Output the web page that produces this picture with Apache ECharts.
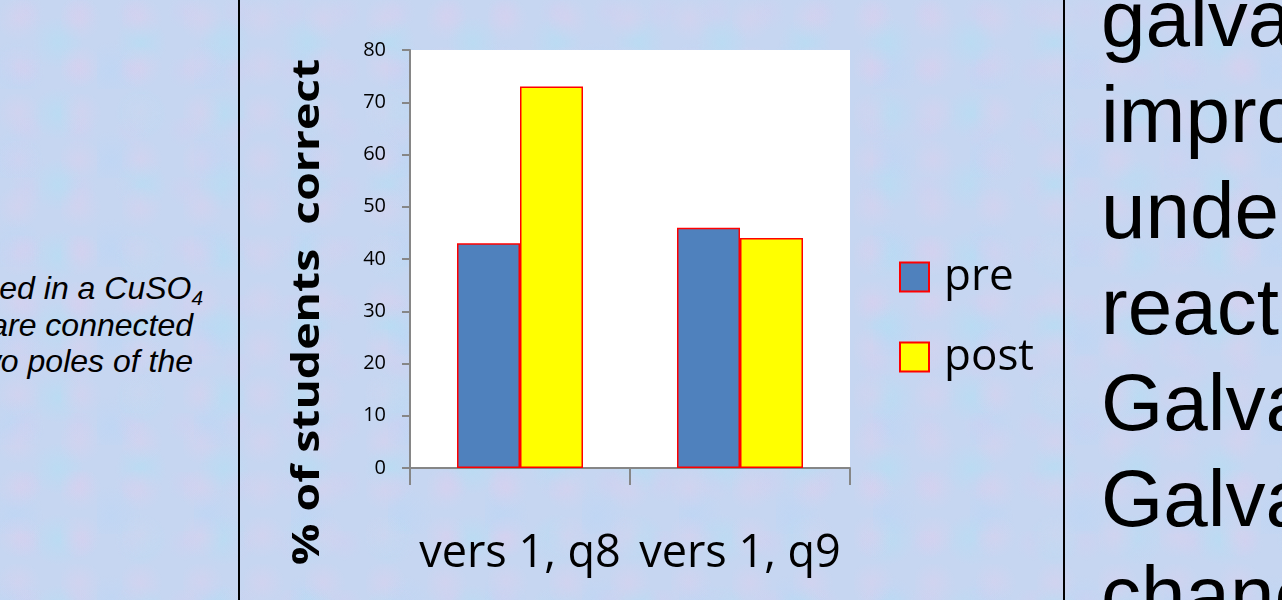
<!DOCTYPE html>
<html>
<head>
<meta charset="utf-8">
<title>% of students correct</title>
<script src="https://cdn.jsdelivr.net/npm/echarts@6/dist/echarts.min.js"></script>
<style>
  html, body {
    margin: 0;
    padding: 0;
    width: 1282px;
    height: 600px;
    overflow: hidden;
  }
  body {
    position: relative;
    background-color: #c6d6f1;
    background-image:
      radial-gradient(circle at 30% 40%, rgba(228, 206, 236, 0.35) 0, rgba(228, 206, 236, 0) 22px),
      radial-gradient(circle at 70% 60%, rgba(176, 224, 244, 0.5) 0, rgba(176, 224, 244, 0) 26px),
      radial-gradient(circle at 50% 20%, rgba(212, 206, 240, 0.4) 0, rgba(212, 206, 240, 0) 18px),
      radial-gradient(circle at 15% 80%, rgba(186, 214, 246, 0.5) 0, rgba(186, 214, 246, 0) 30px);
    background-size: 61px 47px, 83px 71px, 53px 59px, 97px 89px;
  }
  #chart {
    position: absolute;
    left: 0;
    top: 0;
    width: 1282px;
    height: 600px;
  }
  .rule {
    position: absolute;
    top: 0;
    width: 2px;
    height: 600px;
    background: #000;
  }
  .left-line {
    position: absolute;
    font: italic 32px "Liberation Sans", Arial, sans-serif;
    white-space: nowrap;
    text-align: right;
    line-height: 37px;
    color: #000;
  }
  .left-line sub {
    font-size: 65%;
    vertical-align: -0.3em;
    line-height: 0;
  }
  .right-text {
    position: absolute;
    left: 1101px;
    top: -29px;
    font: 80px "Liberation Sans", Arial, sans-serif;
    line-height: 96px;
    white-space: nowrap;
    color: #000;
  }
</style>
</head>
<body>
<div class="left-line" style="right:1079px; top:270px;">ed in a CuSO<sub>4</sub></div>
<div class="left-line" style="right:1089px; top:307px;">are connected</div>
<div class="left-line" style="right:1089px; top:343px;">two poles of the</div>
<div class="rule" style="left:238px;"></div>
<div class="rule" style="left:1063px;"></div>
<div class="right-text">galva<br>impro<br>unde<br>reacti<br>Galva<br>Galva<br>chanc</div>
<div id="chart"></div>
<script>
  // categories and values
  const categories = ['vers 1, q8', 'vers 1, q9'];
  const preValues = [43, 46];
  const postValues = [73, 44];
  const yMin = 0;
  const yMax = 80;
  const yStep = 10;
  const yTitle = '% of students  correct';

  const uiFont = '"Open Sans", Lato, sans-serif';
  const axisGray = '#868686';

  var myChart = echarts.init(document.getElementById('chart'), null, {renderer: 'canvas'});
  let option = {
    animation: false,
    backgroundColor: 'transparent',
    textStyle: {
      fontFamily: uiFont
    },
    grid: {
      left: 410,
      right: 432,
      top: 50,
      bottom: 132,
      show: true,
      backgroundColor: '#fff',
      borderWidth: 0
    },
    legend: {
      orient: 'vertical',
      left: 899,
      top: 255,
      padding: 0,
      itemWidth: 29,
      itemHeight: 29,
      itemGap: 36,
      icon: 'rect',
      data: ['pre', 'post'],
      textStyle: {
        fontFamily: uiFont,
        fontSize: 44,
        color: '#000',
        padding: [0, 0, 0, 10]
      }
    },
    xAxis: {
      type: 'category',
      data: categories,
      axisLine: {
        lineStyle: {color: axisGray, width: 2}
      },
      axisTick: {
        show: true,
        interval: 0,
        length: 17,
        lineStyle: {color: axisGray, width: 2}
      },
      axisLabel: {
        interval: 0,
        hideOverlap: false,
        fontFamily: uiFont,
        fontSize: 45,
        color: '#000',
        margin: 64
      }
    },
    yAxis: {
      type: 'value',
      min: yMin,
      max: yMax,
      interval: yStep,
      splitLine: {show: false},
      axisLine: {
        show: true,
        lineStyle: {color: axisGray, width: 2}
      },
      axisTick: {
        show: true,
        length: 8,
        lineStyle: {color: axisGray, width: 2}
      },
      axisLabel: {
        fontFamily: uiFont,
        fontSize: 20,
        color: '#000',
        margin: 24
      }
    },
    series: [
      {
        name: 'pre',
        type: 'bar',
        data: preValues,
        barWidth: 63,
        barGap: '0%',
        itemStyle: {
          color: '#4F81BD',
          borderColor: '#FF0000',
          borderWidth: 1.5
        }
      },
      {
        name: 'post',
        type: 'bar',
        data: postValues,
        barWidth: 63,
        barGap: '0%',
        itemStyle: {
          color: '#FFFF00',
          borderColor: '#FF0000',
          borderWidth: 1.5
        }
      }
    ],
    graphic: [
      {
        type: 'text',
        x: 308,
        y: 312,
        rotation: Math.PI / 2,
        scaleX: 1.22,
        style: {
          text: yTitle,
          font: 'bold 38px ' + uiFont,
          fill: '#000',
          align: 'center',
          verticalAlign: 'middle'
        }
      }
    ]
  };
  myChart.setOption(option);
</script>
</body>
</html>
